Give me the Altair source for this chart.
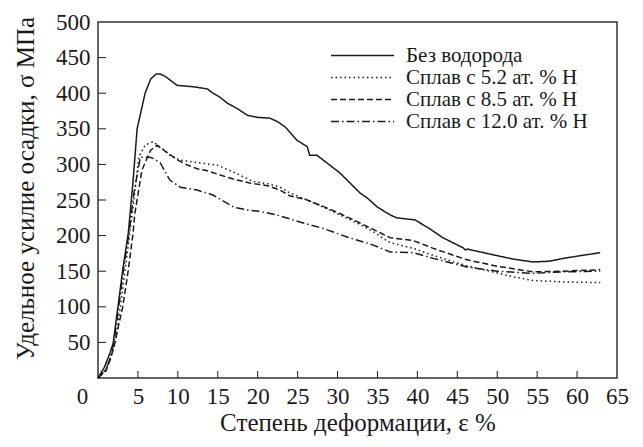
import altair as alt
import pandas as pd

series_names = [
    "Без водорода",
    "Сплав с 5.2 ат. % H",
    "Сплав с 8.5 ат. % H",
    "Сплав с 12.0 ат. % H",
]

x0 = [0, 0.8, 1.5, 1.9, 2.5, 3.1, 3.8, 4.4, 4.9, 5.9, 6.6, 7.3, 7.8, 8.5, 9.9, 12, 13.7, 14.4,
      15.2, 16.2, 17.5, 18.7, 20, 21.5, 22.5, 23.5, 24.9, 26.2, 26.5, 27.4, 30.3, 32.8, 33.7, 35,
      36.6, 37.4, 39.7, 41.5, 43.2, 45.7, 46, 46.3, 49.5, 52, 54.5, 56.5, 58.3, 60.5, 62.9]
y0 = [0, 15, 35, 49, 100, 152, 204, 278, 350, 400, 420, 427, 427, 423, 411, 409, 406, 400,
      395, 386, 378, 369, 366, 365, 360, 352, 334, 325, 313, 313, 288, 260, 253, 240,
      229, 225, 222, 210, 197, 183, 180, 181, 173, 167, 163, 164, 168, 172, 176]

x1 = [0, 1, 1.6, 2.2, 2.8, 3.4, 4.0, 4.6, 5.1, 5.9, 6.9, 7.8, 8.1, 9, 10.3, 12.8, 14.9, 17, 18.7,
      19.4, 21.2, 22.8, 24, 26.2, 28.2, 30.3, 32.4, 34.4, 35.7, 36.6, 39.5, 41.5, 43.7, 46, 49.5,
      52, 54.5, 58, 62.9]
y1 = [0, 12, 30, 50, 100, 152, 205, 260, 310, 327, 332, 324, 322, 313, 306, 302, 299, 289, 280,
      276, 273, 268, 260, 250, 240, 229, 218, 206, 196, 190, 182, 174, 166, 158, 149,
      142, 137, 135, 134]

x2 = [0, 1, 1.6, 2.1, 2.6, 3.1, 3.8, 4.4, 4.6, 5.3, 5.5, 6.6, 7.4, 8, 10, 11, 12.4, 13.7, 15.3,
      17.4, 19, 21.2, 22.8, 24, 26.2, 28.2, 30.3, 32.4, 34.4, 36.6, 39.5, 42, 46.2, 50, 54.5, 58, 62.9]
y2 = [0, 10, 28, 49, 75, 100, 152, 204, 230, 278, 292, 320, 327, 322, 306, 300, 294, 291, 285,
      278, 274, 270, 264, 256, 250, 241, 231, 220, 209, 197, 193, 182, 166, 157, 149, 150, 152]

x3 = [0, 1, 1.6, 2.0, 2.6, 3.2, 3.9, 4.5, 5.3, 6.5, 7.0, 7.8, 9, 10.3, 12.4, 14.4, 17, 18.7, 20.3,
      22.4, 25.3, 28.2, 31.2, 34.4, 36.6, 39.5, 42, 46.2, 50, 54.5, 58, 62.9]
y3 = [0, 12, 30, 50, 100, 152, 205, 260, 310, 310, 308, 302, 278, 268, 264, 257, 240, 236, 234,
      229, 219, 210, 198, 187, 177, 176, 168, 156, 150, 147, 149, 150]

x_ticks = list(range(0, 66, 5))
y_ticks = list(range(50, 501, 50))
inner_x_ticks = list(range(5, 61, 5))
inner_y_ticks = list(range(50, 451, 50))

rows = []
for name, xs, ys in zip(series_names, [x0, x1, x2, x3], [y0, y1, y2, y3]):
    for i, (xv, yv) in enumerate(zip(xs, ys)):
        rows.append({"series": name, "eps": xv, "sigma": yv, "order": i})
df = pd.DataFrame(rows)

FONT = "Liberation Serif"
INK = "#1a1a1a"

xscale = alt.Scale(domain=[0, 65], nice=False, zero=False)
yscale = alt.Scale(domain=[0, 500], nice=False)

x_axis = alt.Axis(
    values=x_ticks, title="Степень деформации, ε %", ticks=False, domain=False, grid=False,
    labelFont=FONT, labelFontSize=23, labelColor=INK, labelPadding=7, labelFlush=False,
    labelOffset={"condition": {"test": "datum.value == 0", "value": -16}, "value": 0},
    titleFont=FONT, titleFontSize=25, titleFontWeight="normal", titleColor=INK,
    titleY=44, titleBaseline="middle")
y_axis = alt.Axis(
    values=y_ticks, title="Удельное усилие осадки, σ МПа", ticks=False, domain=False, grid=False,
    labelFont=FONT, labelFontSize=23, labelColor=INK, labelPadding=8, labelFlush=False,
    titleFont=FONT, titleFontSize=25, titleFontWeight="normal", titleColor=INK,
    titleX=-73, titleY=166, titleAngle=-90, titleBaseline="middle", titleAlign="center")

lines = alt.Chart(df).mark_line(strokeWidth=1.5, color=INK).encode(
    x=alt.X("eps:Q", scale=xscale, axis=x_axis),
    y=alt.Y("sigma:Q", scale=yscale, axis=y_axis),
    strokeDash=alt.StrokeDash("series:N", sort=series_names,
        scale=alt.Scale(domain=series_names, range=[[1, 0], [1.5, 3], [6, 3], [8, 3, 1.5, 3]]),
        legend=alt.Legend(title=None, orient="none", legendX=253, legendY=22,
                          symbolType="M-3,0H3", symbolSize=441, symbolStrokeWidth=1.5,
                          symbolStrokeColor=INK, symbolFillColor="transparent",
                          labelFont=FONT, labelFontSize=21, labelLimit=300,
                          labelColor=INK, labelOffset=32, rowPadding=0, padding=0)),
    order="order:Q",
)

xt = alt.Chart(pd.DataFrame({"v": inner_x_ticks})).mark_rule(color=INK, strokeWidth=1).encode(
    x=alt.X("v:Q", scale=xscale, axis=x_axis),
    y=alt.value(356), y2=alt.value(349),
)
yt = alt.Chart(pd.DataFrame({"v": inner_y_ticks})).mark_rule(color=INK, strokeWidth=1).encode(
    y=alt.Y("v:Q", scale=yscale, axis=y_axis),
    x=alt.value(0), x2=alt.value(8),
)

chart = alt.layer(lines, xt, yt).properties(
    width=519, height=356,
    autosize=alt.AutoSizeParams(type="none"),
    padding={"left": 90, "top": 14, "right": 16, "bottom": 66},
).configure_view(stroke="#333333", strokeWidth=1.5)

chart.save("out.html", embed_options={"renderer": "svg", "actions": False})
